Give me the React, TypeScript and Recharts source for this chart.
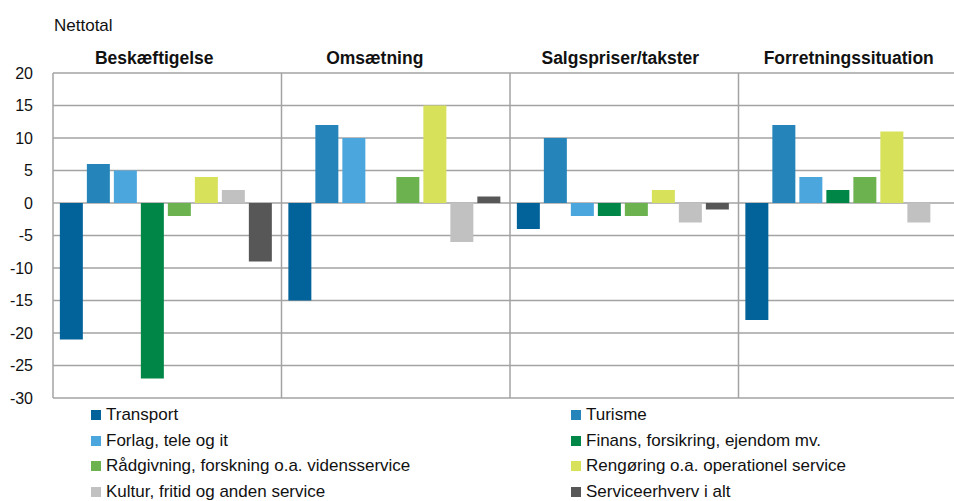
import React from 'react'
import {
  BarChart,
  Bar,
  XAxis,
  YAxis,
  CartesianGrid,
  Legend,
} from 'recharts'

const categories = ['Beskæftigelse', 'Omsætning', 'Salgspriser/takster', 'Forretningssituation']

const transport = [-21, -15, -4, -18]
const turisme = [6, 12, 10, 12]
const forlag = [5, 10, -2, 4]
const finans = [-27, 0, -2, 2]
const raadgivning = [-2, 4, -2, 4]
const rengoering = [4, 15, 2, 11]
const kultur = [2, -6, -3, -3]
const serviceerhverv = [-9, 1, -1, 0]

const yTicks = [20, 15, 10, 5, 0, -5, -10, -15, -20, -25, -30]

const series = [
  { key: 'transport', name: 'Transport', color: '#02639a', values: transport },
  { key: 'turisme', name: 'Turisme', color: '#2585bb', values: turisme },
  { key: 'forlag', name: 'Forlag, tele og it', color: '#4ba6de', values: forlag },
  { key: 'finans', name: 'Finans, forsikring, ejendom mv.', color: '#008646', values: finans },
  { key: 'raadgivning', name: 'Rådgivning, forskning o.a. vidensservice', color: '#6cb350', values: raadgivning },
  { key: 'rengoering', name: 'Rengøring o.a. operationel service', color: '#d7e15a', values: rengoering },
  { key: 'kultur', name: 'Kultur, fritid og anden service', color: '#c1c1c1', values: kultur },
  { key: 'serviceerhverv', name: 'Serviceerhverv i alt', color: '#575757', values: serviceerhverv },
]

const data = categories.map((cat, i) => {
  const row: Record<string, string | number> = { cat }
  series.forEach((s) => {
    row[s.key] = s.values[i]
  })
  return row
})

const FONT = '"Liberation Sans", Arial, sans-serif'
const GRID = '#a3a3a3'
const TEXT = '#111'

// titles sit a bit left of the group centre in the original
const titleShift = [-13, -21, -4, -4]

function GroupTitle(props: any) {
  const { x, y, payload, index } = props
  return (
    <text
      x={x + (titleShift[index] ?? 0)}
      y={y}
      dy={-1}
      textAnchor="middle"
      fill={TEXT}
      style={{ fontFamily: FONT, fontSize: 17.5, fontWeight: 'bold' }}
    >
      {payload.value}
    </text>
  )
}

function LegendGrid() {
  return (
    <div
      style={{
        display: 'grid',
        gridTemplateColumns: '480px 400px',
        fontFamily: FONT,
        fontSize: 17,
        color: TEXT,
        textAlign: 'left',
      }}
    >
      {series.map((s) => (
        <div key={s.key} style={{ display: 'flex', alignItems: 'center', height: 25.7, whiteSpace: 'nowrap' }}>
          <span style={{ width: 10, height: 10, background: s.color, marginRight: 5, display: 'inline-block', flex: 'none' }} />
          <span>{s.name}</span>
        </div>
      ))}
    </div>
  )
}

// vertical lines between the category groups
function groupBoundaries({ offset }: { offset: { left: number; width: number } }) {
  const n = categories.length
  return categories.slice(1).map((_, i) => offset.left + (offset.width * (i + 1)) / n)
}

export default function App() {
  return (
    <div style={{ position: 'absolute', left: 0, top: 0, width: 954, height: 501, overflow: 'hidden', background: '#fff' }}>
      <div style={{ position: 'absolute', left: 54, top: 17, fontFamily: FONT, fontSize: 17, color: TEXT, lineHeight: 1 }}>
        Nettotal
      </div>
      <BarChart
        width={980}
        height={515}
        data={data}
        margin={{ top: 43, right: 13, bottom: 117, left: 0 }}
        barCategoryGap="3%"
        barGap={4}
        style={{ fontFamily: FONT }}
      >
        <CartesianGrid
          horizontal
          vertical
          stroke={GRID}
          strokeWidth={1.5}
          verticalCoordinatesGenerator={groupBoundaries as any}
        />
        <XAxis
          dataKey="cat"
          orientation="top"
          height={30}
          axisLine={false}
          tickLine={false}
          tick={<GroupTitle />}
          interval={0}
        />
        <YAxis
          domain={[-30, 20]}
          ticks={yTicks}
          interval={0}
          width={53}
          axisLine={{ stroke: GRID, strokeWidth: 1.5 }}
          tickLine={false}
          tick={{ fill: TEXT, fontSize: 16 }}
          tickMargin={14}
        />
        {series.map((s) => (
          <Bar key={s.key} dataKey={s.key} name={s.name} fill={s.color} isAnimationActive={false} />
        ))}
        <Legend
          layout="horizontal"
          verticalAlign="middle"
          align="center"
          wrapperStyle={{ top: 402, left: 91, width: 900 }}
          content={<LegendGrid />}
        />
      </BarChart>
    </div>
  )
}
